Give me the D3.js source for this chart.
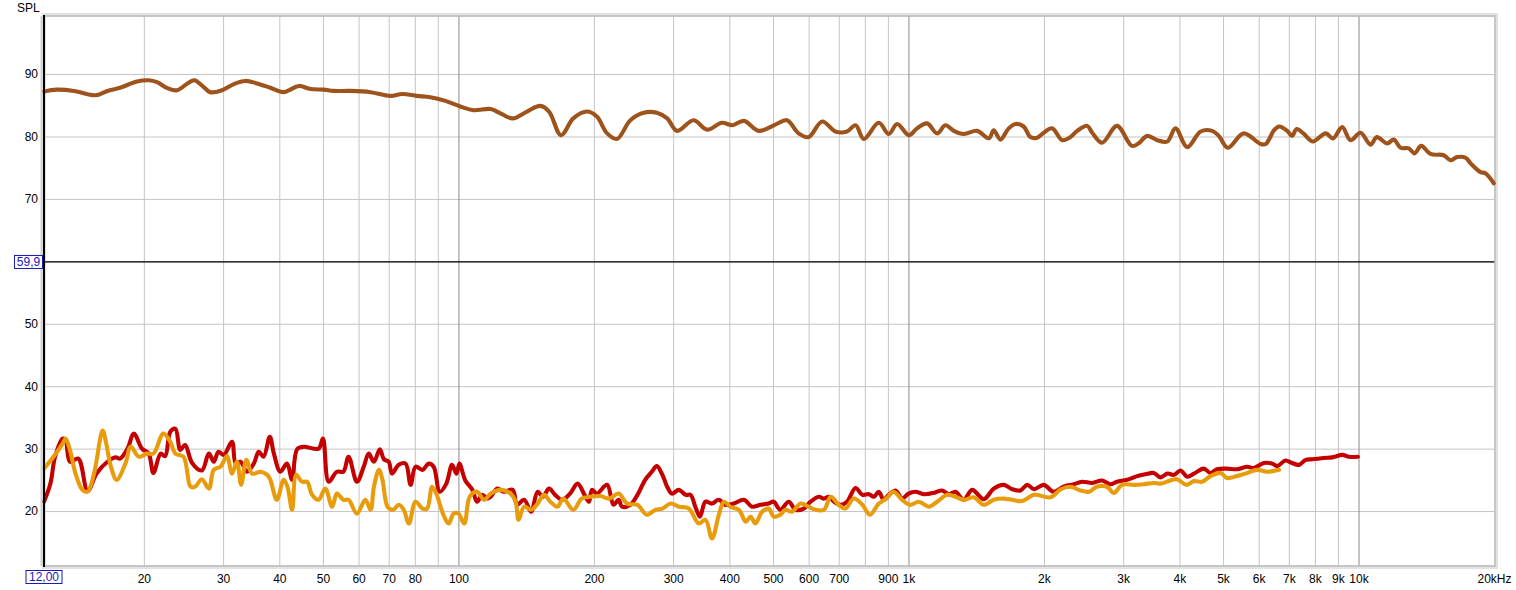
<!DOCTYPE html>
<html>
<head>
<meta charset="UTF-8">
<title>SPL</title>
<script src="https://d3js.org/d3.v7.min.js"></script>
<style>
  body { margin: 0; background: #fff; }
  svg { display: block; }
  text { font-family: "Liberation Sans", Arial, sans-serif; font-size: 12px; }
</style>
</head>
<body>
<svg id="chart"></svg>
<script>
// [frequency Hz, SPL dB]
const mainResp = [[12,87.2],[12.8,87.5],[14.0,87.3],[15.6,86.6],[16.6,87.3],[17.7,87.8],[19.3,88.8],[20.5,89.0],[21.4,88.7],[22.5,87.8],[23.7,87.4],[25.0,88.5],[25.9,89.0],[26.9,88.2],[28.1,87.1],[29.8,87.4],[31.7,88.4],[33.6,88.9],[35.7,88.5],[38.2,87.8],[40.8,87.1],[42.0,87.4],[44.2,88.1],[46.9,87.6],[50.2,87.5],[52.8,87.3],[57.6,87.3],[63.8,87.1],[70.6,86.5],[75.0,86.8],[80.9,86.5],[86.6,86.3],[93.6,85.7],[101,84.8],[108,84.2],[118,84.4],[124,83.7],[132,82.9],[142,84.0],[152,84.9],[159,84.0],[169,80.2],[180,82.9],[193,84.0],[203,83.2],[214,80.5],[225,79.6],[241,82.6],[258,83.8],[276,83.8],[291,82.9],[306,80.9],[333,82.6],[357,81.1],[385,82.2],[406,81.8],[431,82.5],[465,80.9],[506,81.9],[537,82.6],[570,80.5],[600,79.9],[643,82.4],[688,80.8],[730,80.8],[763,81.8],[796,79.6],[859,82.2],[904,80.4],[944,82.0],[1002,80.2],[1045,81.3],[1100,82.1],[1158,80.5],[1208,81.8],[1261,80.9],[1327,80.4],[1421,80.9],[1509,79.7],[1547,81.0],[1601,79.5],[1670,81.3],[1729,82.0],[1803,81.6],[1866,79.9],[1931,79.8],[1998,80.6],[2086,81.3],[2196,79.4],[2291,79.9],[2371,80.9],[2496,81.7],[2560,80.6],[2694,79.0],[2906,81.7],[3137,78.5],[3248,78.9],[3393,80.1],[3572,79.4],[3759,79.2],[3920,81.3],[4164,78.3],[4458,80.8],[4731,80.9],[4893,80.1],[5122,78.2],[5557,80.5],[6060,78.8],[6221,78.8],[6493,81.0],[6661,81.6],[6944,80.9],[7116,80.1],[7289,81.2],[7540,80.5],[7910,79.2],[8455,80.5],[8782,79.7],[9200,81.5],[9600,79.4],[10100,80.6],[10633,78.7],[10985,79.9],[11580,78.9],[11980,79.5],[12400,78.2],[12935,78.1],[13320,77.3],[13780,78.5],[14450,77.2],[15470,77.0],[16000,76.2],[16570,76.7],[17290,76.6],[17740,75.7],[18660,74.3],[19140,74.1],[19980,72.5]];

const redResp = [[12.0,21.5],[12.4,24.4],[12.7,28.7],[13.2,31.6],[13.4,31.4],[13.7,27.9],[14.3,28.4],[15.0,23.2],[15.7,26.0],[16.6,27.9],[17.3,28.6],[17.7,28.4],[18.4,30.0],[19.0,32.4],[19.8,30.0],[20.5,29.2],[21.0,26.1],[21.8,29.2],[22.3,28.8],[22.9,32.7],[23.5,33.2],[24.1,29.8],[24.7,30.6],[25.6,27.7],[26.9,26.5],[27.9,29.2],[28.6,27.9],[29.3,29.5],[30.1,29.0],[31.4,31.1],[32.0,27.6],[32.8,27.9],[33.9,26.3],[35.1,27.6],[36.0,29.5],[36.9,28.7],[38.1,31.9],[38.9,29.2],[40.2,26.3],[41.6,27.6],[42.7,25.0],[43.8,29.9],[45.3,30.3],[48.9,30.0],[50.0,31.6],[51.5,24.7],[53.7,26.3],[55.5,26.3],[57.0,28.7],[59.5,24.7],[61.6,27.1],[63.2,29.2],[64.9,27.9],[66.9,29.9],[68.3,28.3],[70.0,27.9],[71.2,26.0],[73.7,27.4],[76.3,27.6],[78.3,24.2],[80.3,27.1],[83.2,26.6],[85.9,27.6],[88.1,27.1],[90.9,23.1],[94.0,24.4],[96.8,27.4],[99.0,26.0],[100.5,27.6],[103.6,24.9],[107.4,23.4],[110,21.5],[113,22.6],[116,22.0],[118,22.3],[122,23.6],[126,23.1],[132,23.4],[135,21.0],[140,21.8],[145,19.9],[150,23.1],[154,22.3],[159,23.6],[164,22.6],[170,21.8],[177,22.8],[184,24.4],[190,22.8],[195,21.5],[198,23.4],[203,22.8],[214,24.2],[221,21.0],[227,21.8],[231,20.7],[241,21.0],[250,22.6],[260,25.0],[269,26.3],[276,27.2],[284,25.8],[291,23.9],[298,22.8],[309,23.4],[320,22.6],[328,22.6],[336,20.7],[344,19.1],[354,21.5],[366,21.2],[379,21.8],[392,21.0],[409,21.2],[431,21.8],[449,20.7],[469,21.0],[489,21.2],[502,21.5],[519,20.2],[542,21.5],[561,20.2],[585,20.4],[606,21.5],[632,22.3],[649,22.0],[666,22.3],[683,21.5],[706,21.0],[730,21.5],[763,23.7],[790,22.6],[817,22.7],[838,22.3],[859,23.1],[881,21.8],[904,22.6],[936,23.3],[968,22.0],[1000,22.8],[1036,23.1],[1081,22.7],[1138,22.9],[1188,23.3],[1229,22.7],[1272,23.1],[1327,21.8],[1385,23.4],[1470,21.9],[1547,23.6],[1628,24.2],[1700,23.5],[1774,23.3],[1836,24.2],[1900,23.5],[1998,24.2],[2100,23.1],[2210,23.9],[2330,24.3],[2430,24.7],[2560,24.5],[2694,24.9],[2810,24.3],[2906,24.7],[3060,25.0],[3220,25.6],[3360,25.9],[3510,26.1],[3630,25.4],[3760,26.0],[3890,25.8],[4020,26.5],[4164,25.5],[4310,26.0],[4530,26.8],[4690,26.1],[4850,26.7],[5100,26.8],[5370,26.7],[5660,27.1],[5850,26.9],[6160,27.7],[6430,27.6],[6600,27.2],[6880,28.1],[7116,27.7],[7370,27.4],[7630,28.2],[7910,28.3],[8380,28.5],[8740,28.6],[9210,29.0],[9520,28.7],[9970,28.7]];

const orangeResp = [[12.0,26.8],[12.6,28.7],[13.2,30.8],[13.4,31.6],[13.7,29.8],[14.1,26.0],[14.6,23.4],[15.0,23.1],[15.5,26.0],[16.2,32.9],[16.5,30.8],[16.9,27.1],[17.4,25.0],[18.2,27.6],[18.7,30.3],[19.5,28.7],[20.3,29.2],[21.0,29.2],[22.1,32.4],[22.9,31.1],[23.5,29.2],[24.5,28.7],[25.4,23.9],[26.0,23.9],[26.9,25.1],[27.9,23.6],[28.6,26.6],[29.6,27.1],[30.6,28.8],[31.4,26.0],[32.2,27.9],[32.9,24.2],[33.8,28.2],[34.8,26.0],[36.3,26.3],[37.6,25.8],[38.2,25.0],[39.5,21.8],[40.9,25.0],[41.7,23.9],[42.7,20.2],[43.6,25.8],[44.9,24.7],[46.1,24.7],[47.3,22.6],[48.9,21.8],[50.6,23.6],[52.4,20.7],[53.7,22.8],[55.5,21.8],[57.0,21.8],[59.5,19.6],[62.1,21.8],[63.8,20.2],[64.9,23.9],[66.6,26.6],[67.8,25.0],[69.6,20.7],[71.6,20.2],[73.7,21.0],[75.6,20.2],[77.6,18.0],[80.3,21.5],[83.2,20.4],[85.2,20.4],[87.4,23.9],[89.3,22.8],[92.6,19.4],[95.1,18.0],[97.6,19.6],[100,19.6],[103,18.0],[106,22.3],[110,23.1],[114,21.8],[118,22.8],[124,23.4],[130,22.9],[134,21.5],[136,18.6],[140,20.7],[145,20.2],[150,21.2],[155,22.6],[160,21.5],[166,20.7],[171,22.0],[180,20.2],[188,22.0],[197,22.3],[207,22.4],[216,22.0],[227,22.8],[237,21.2],[250,21.0],[262,19.4],[274,20.2],[284,20.4],[296,21.2],[309,20.7],[325,20.4],[342,18.0],[354,18.6],[366,15.6],[379,19.4],[389,21.5],[402,20.7],[420,20.2],[435,18.3],[446,19.1],[457,18.0],[473,19.9],[489,20.4],[502,19.1],[519,19.4],[533,20.2],[551,19.9],[576,21.2],[600,20.7],[621,20.2],[649,20.2],[672,22.3],[700,21.0],[724,20.4],[756,22.0],[790,21.0],[821,19.4],[859,21.2],[893,22.0],[926,23.1],[968,21.8],[1010,21.0],[1054,21.5],[1110,20.7],[1158,21.5],[1219,22.6],[1272,22.3],[1327,21.8],[1397,22.2],[1470,21.0],[1547,21.8],[1628,22.0],[1700,21.8],[1790,21.6],[1900,22.6],[2070,22.2],[2180,23.5],[2291,23.9],[2410,23.3],[2520,23.1],[2620,23.9],[2760,23.9],[2860,22.9],[2980,24.2],[3170,24.2],[3330,24.3],[3510,24.5],[3630,24.4],[3820,24.9],[3950,25.1],[4150,24.2],[4310,24.8],[4490,24.7],[4690,25.6],[4940,26.1],[5100,25.3],[5370,25.6],[5660,26.1],[5950,26.6],[6270,26.3],[6660,26.6]];

const yTicks = [20, 30, 40, 50, 60, 70, 80, 90];
const yLabelTicks = [20, 30, 40, 50, 70, 80, 90];
const xLabelTicks = [20, 30, 40, 50, 60, 70, 80, 100, 200, 300, 400, 500, 600, 700, 900, 1000, 2000, 3000, 4000, 5000, 6000, 7000, 8000, 9000, 10000, 20000];
const xRange = [12, 20000];
const yRange = [11.2, 99.3];
const refLevel = 59.9;

const width = 1516, height = 590;
const plot = { left: 44, right: 1494, top: 16, bottom: 566 };

const svg = d3.select('#chart').attr('width', width).attr('height', height);

const x = d3.scaleLog().domain(xRange).range([plot.left, plot.right]);
const y = d3.scaleLinear().domain(yRange).range([plot.bottom, plot.top]);

// every 1..9 multiple per decade for the grid
const gridX = [];
for (let dec = 10; dec <= 10000; dec *= 10) {
    for (let m = 1; m <= 9; m++) {
        const f = dec * m;
        if (f > xRange[0] && f < xRange[1]) gridX.push(f);
    }
}
const decades = [100, 1000, 10000];

// grid axes carry only lines, no text
function gridAxis(g, color) {
    g.select('.domain').remove();
    g.selectAll('text').remove();
    g.selectAll('line').attr('stroke', color);
}

// frame shadow
svg.append('rect')
    .attr('x', plot.left).attr('y', plot.top - 1)
    .attr('width', plot.right - plot.left + 2).attr('height', plot.bottom - plot.top + 2)
    .attr('fill', '#fff').attr('stroke', '#e2e2e2').attr('stroke-width', 4);

// grids
svg.append('g')
    .attr('transform', `translate(0,${plot.bottom})`)
    .call(d3.axisBottom(x).tickValues(gridX.filter(f => !decades.includes(f)))
        .tickSize(-(plot.bottom - plot.top)))
    .call(g => gridAxis(g, '#c4c4c4'));

svg.append('g')
    .attr('transform', `translate(${plot.left},0)`)
    .call(d3.axisLeft(y).tickValues(yTicks).tickSize(-(plot.right - plot.left)))
    .call(g => gridAxis(g, '#c4c4c4'));

svg.append('g')
    .attr('transform', `translate(0,${plot.bottom})`)
    .call(d3.axisBottom(x).tickValues(decades).tickSize(-(plot.bottom - plot.top)))
    .call(g => gridAxis(g, '#8a8a8a'));

// reference line
svg.append('line')
    .attr('x1', plot.left).attr('x2', plot.right + 1)
    .attr('y1', y(refLevel)).attr('y2', y(refLevel))
    .attr('stroke', '#000').attr('stroke-width', 1.2);

// frame
svg.append('rect')
    .attr('x', plot.left).attr('y', plot.top)
    .attr('width', plot.right - plot.left + 1).attr('height', plot.bottom - plot.top)
    .attr('fill', 'none').attr('stroke', '#bdbdbd').attr('stroke-width', 1.5);

// curves
const line = d3.line()
    .x(d => x(d[0]))
    .y(d => y(d[1]))
    .curve(d3.curveCatmullRom.alpha(0.5));

const series = [
    { data: mainResp, color: '#9f531c' },
    { data: redResp, color: '#c40000' },
    { data: orangeResp, color: '#e89c0c' }
];
svg.selectAll('.curve')
    .data(series)
    .join('path')
    .attr('class', 'curve')
    .attr('fill', 'none')
    .attr('stroke', d => d.color)
    .attr('stroke-width', 4.1)
    .attr('stroke-linejoin', 'round')
    .attr('stroke-linecap', 'round')
    .attr('d', d => line(d.data));

// left axis line with its shadow
svg.append('line')
    .attr('x1', plot.left - 2.5).attr('x2', plot.left - 2.5)
    .attr('y1', plot.top).attr('y2', plot.bottom)
    .attr('stroke', '#d0d0d0').attr('stroke-width', 2);
svg.append('line')
    .attr('x1', plot.left).attr('x2', plot.left)
    .attr('y1', plot.top - 1).attr('y2', plot.bottom + 1)
    .attr('stroke', '#000').attr('stroke-width', 2);

// axis labels
svg.append('g')
    .attr('transform', `translate(${plot.left},0)`)
    .call(d3.axisLeft(y).tickValues(yLabelTicks).tickSize(0).tickPadding(6))
    .call(g => g.select('.domain').remove())
    .call(g => g.selectAll('text')
        .attr('font-family', '"Liberation Sans", Arial, sans-serif')
        .attr('font-size', 12).attr('fill', '#000'));

const fmtFreq = f => f === 20000 ? '20kHz' : (f >= 1000 ? (f / 1000) + 'k' : String(f));
svg.append('g')
    .attr('transform', `translate(0,${plot.bottom})`)
    .call(d3.axisBottom(x).tickValues(xLabelTicks).tickSize(0).tickPadding(8).tickFormat(fmtFreq))
    .call(g => g.select('.domain').remove())
    .call(g => g.selectAll('text')
        .attr('font-family', '"Liberation Sans", Arial, sans-serif')
        .attr('font-size', 12).attr('fill', '#000'));

svg.append('text')
    .attr('x', 17).attr('y', 12)
    .attr('fill', '#000')
    .text('SPL');

// boxed cursor labels
function boxLabel(cx, cy, w, label) {
    const g = svg.append('g').attr('transform', `translate(${cx},${cy})`);
    g.append('rect')
        .attr('x', -w / 2).attr('y', -6.5)
        .attr('width', w).attr('height', 13)
        .attr('fill', '#fff').attr('stroke', '#1a1ab4').attr('stroke-width', 1);
    g.append('text')
        .attr('y', 4.2)
        .attr('text-anchor', 'middle')
        .attr('font-size', 11.5)
        .attr('fill', '#1a1ab4')
        .text(label);
}
boxLabel(28.5, y(refLevel), 28, '59,9');
boxLabel(x(xRange[0]), 577, 36, '12,00');
</script>
</body>
</html>
